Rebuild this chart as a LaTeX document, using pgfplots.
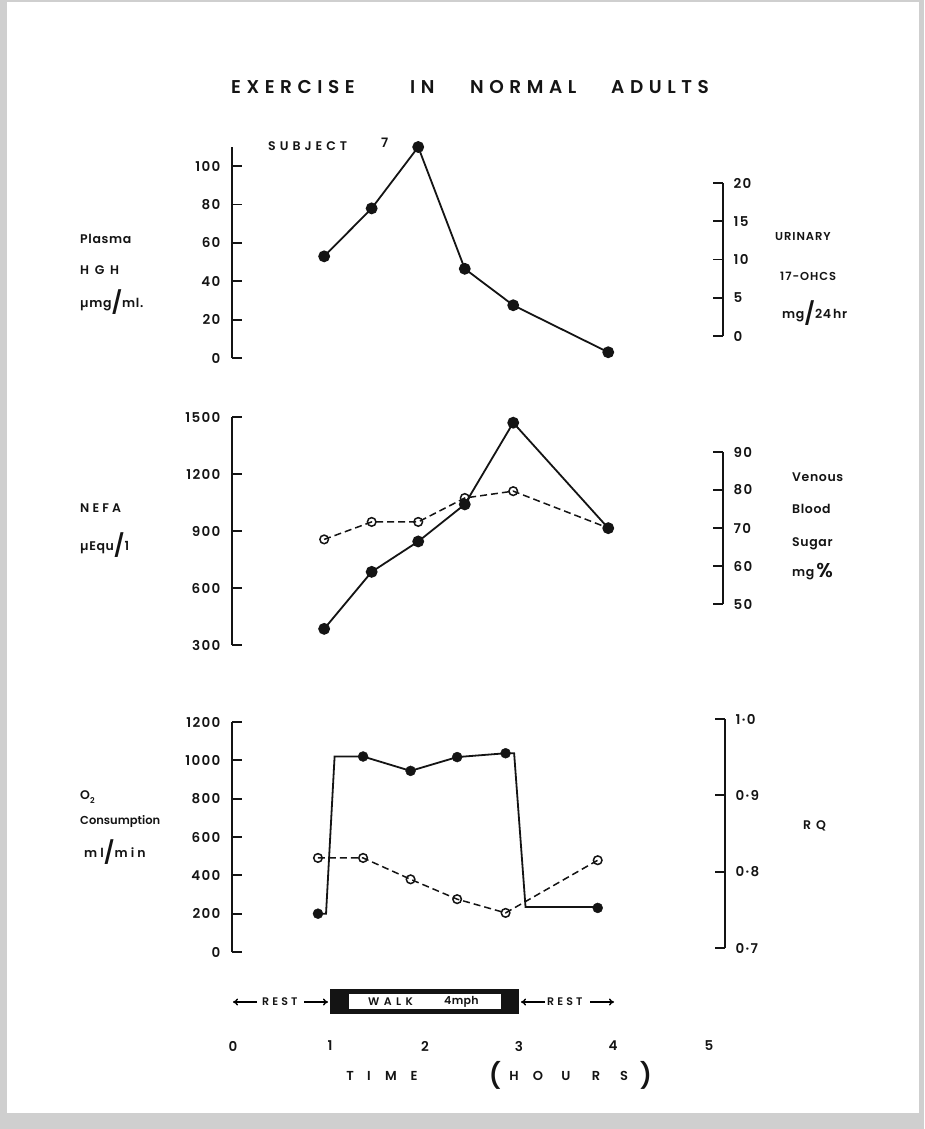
\documentclass[border=0pt]{standalone}
\usepackage{fontspec}
\usepackage{pgfplots}
\pgfplotsset{compat=1.18}
\usetikzlibrary{arrows.meta}
\setmainfont{Poppins}[UprightFont=* SemiBold]

\definecolor{ink}{HTML}{141414}
\definecolor{edge}{HTML}{CFCFCF}

\newcommand\tickfont{\fontsize{13.5}{15}\selectfont\addfontfeatures{LetterSpace=10}}
\newcommand\labfont{\fontsize{12.5}{14}\selectfont\addfontfeatures{LetterSpace=5}}
\newcommand\bigslash{\raisebox{-3pt}{\fontsize{22}{22}\selectfont/}}

\pgfplotsset{
  panel/.style={
    scale only axis, clip=false, anchor=south west,
    width=491pt, xmin=0, xmax=5.168,
    hide x axis,
    major tick length=10pt,
    every tick/.style={line width=1.8pt, ink},
    yticklabel style={font=\tickfont, text=ink},
    /pgf/number format/assume math mode=true,
    /pgf/number format/1000 sep={},
  },
  leftax/.style={panel, axis y line*=left, tick align=inside,
    y axis line style={-, line width=1.8pt, ink},
    yticklabel style={xshift=-8pt}},
  rightax/.style={panel, axis y line*=right, tick align=inside,
    y axis line style={-, line width=1.8pt, ink},
    yticklabel style={xshift=7pt}},
  fullser/.style={ink, line width=1.8pt, mark=*, mark size=5pt,
    mark options={solid, fill=ink}},
  openser/.style={ink, line width=1.5pt, dash pattern=on 7pt off 4pt,
    mark=o, mark size=4.3pt, mark options={solid, fill=white}},
}

\begin{document}
\begin{tikzpicture}
\fill[edge] (0pt,0pt) rectangle (924pt,-1129pt);
\fill[white] (7pt,-2pt) rectangle (919pt,-1113pt);
\useasboundingbox (0pt,0pt) rectangle (924pt,-1129pt);

% ---------- Plasma HGH / urinary 17-OHCS ----------
\begin{axis}[leftax, at={(232pt,-358pt)}, height=211pt,
  ymin=0, ymax=110, ytick={0,20,...,100}]
\addplot[fullser] coordinates {
  (0.97,53) (1.47,78) (1.96,110) (2.45,46.5) (2.96,27.5) (3.96,3)};
\end{axis}
\begin{axis}[rightax, at={(232pt,-336pt)}, height=153pt,
  ymin=0, ymax=20, ytick={0,5,...,20}]
\addplot[draw=none] coordinates {(0,0)};
\end{axis}

% ---------- NEFA / venous blood sugar ----------
\begin{axis}[rightax, at={(232pt,-604pt)}, height=152pt,
  ymin=50, ymax=90, ytick={50,60,...,90}]
\addplot[openser] coordinates {
  (0.97,67) (1.47,71.6) (1.96,71.6) (2.45,77.9) (2.96,79.7) (3.96,70)};
\end{axis}
\begin{axis}[leftax, at={(232pt,-645pt)}, height=228pt,
  ymin=300, ymax=1500, ytick={300,600,...,1500}]
\addplot[fullser] coordinates {
  (0.97,385) (1.47,685) (1.96,845) (2.45,1040) (2.96,1470) (3.96,915)};
\end{axis}

% ---------- O2 consumption / RQ ----------
\begin{axis}[rightax, at={(232pt,-948pt)}, height=229pt, width=493pt, xmax=5.19,
  ymin=0.7, ymax=1.0, ytick={0.7,0.8,0.9,1.0},
  yticklabels={0·7,0·8,0·9,1·0}]
\addplot[openser] coordinates {
  (0.905,0.818) (1.38,0.818) (1.88,0.790) (2.37,0.764) (2.88,0.746) (3.85,0.815)};
\end{axis}
\begin{axis}[leftax, at={(232pt,-952pt)}, height=230pt, width=493pt, xmax=5.19,
  ymin=0, ymax=1200, ytick={0,200,...,1200}]
% consumption steps up at the start of the walk and back down at its end
\addplot[ink, line width=1.8pt] coordinates {
  (0.905,200) (0.99,200) (1.08,1020) (1.38,1020) (1.88,945) (2.37,1017)
  (2.88,1037) (2.97,1037) (3.09,235) (3.85,235)};
\addplot[only marks, mark=*, mark size=5pt, ink, fill=ink] coordinates {
  (0.905,200) (1.38,1020) (1.88,945) (2.37,1017) (2.88,1037) (3.85,230)};
\end{axis}

\begin{scope}[x=1pt, y=-1pt, text=ink]
% title
\begin{scope}[every node/.style={anchor=west, inner sep=0pt,
    font=\fontsize{18.5}{20}\selectfont\addfontfeatures{LetterSpace=30}}]
\node at (231,87) {EXERCISE};
\node at (410,87) {IN};
\node at (470,87) {NORMAL};
\node at (611,87) {ADULTS};
\end{scope}
\node[anchor=west, inner sep=0pt, font=\fontsize{12.5}{13}\selectfont\addfontfeatures{LetterSpace=32}]
  at (268,146) {SUBJECT};
\node[anchor=west, inner sep=0pt, font=\fontsize{13}{14}\selectfont] at (381,143) {7};

% left-hand quantity names
\begin{scope}[every node/.style={anchor=west, inner sep=0pt, font=\labfont}]
\node at (80,239) {Plasma};
\node[font=\labfont\addfontfeatures{LetterSpace=45}] at (80,270) {HGH};
\node at (80,302) {µmg\bigslash ml.};
\node[font=\labfont\addfontfeatures{LetterSpace=25}] at (80,508) {NEFA};
\node at (80,545) {µEqu\bigslash 1};
\node at (80,797) {O\raisebox{-4pt}{\fontsize{8}{8}\selectfont 2}};
\node[font=\fontsize{11.5}{13}\selectfont] at (80,822) {Consumption};
\node[font=\labfont\addfontfeatures{LetterSpace=25}] at (84,852) {ml\bigslash min};
% right-hand quantity names
\node[font=\fontsize{11.5}{13}\selectfont\addfontfeatures{LetterSpace=8}] at (775,237) {URINARY};
\node[font=\fontsize{11.5}{13}\selectfont\addfontfeatures{LetterSpace=8}] at (780,276) {17-OHCS};
\node at (782,313) {mg\bigslash 24\,hr};
\node at (792,477) {Venous};
\node at (792,509) {Blood};
\node at (792,544) {Sugar};
\node at (792,572) {mg\,\raisebox{-1pt}{\fontsize{20}{20}\selectfont\%}};
\node[font=\labfont\addfontfeatures{LetterSpace=40}] at (803,826) {RQ};
\end{scope}

% walk period bar
\fill[ink] (330,989) rectangle (519,1014);
\fill[white] (349,994) rectangle (501,1009);
\node[anchor=west, inner sep=0pt, font=\fontsize{11}{11}\selectfont\addfontfeatures{LetterSpace=40}] at (368,1002) {WALK};
\node[anchor=west, inner sep=0pt, font=\fontsize{11}{11}\selectfont\addfontfeatures{LetterSpace=3}] at (444,1002) {4mph};
\begin{scope}[line width=1.4pt, arrows={-{To[length=5pt, width=7pt]}}]
\draw (257,1002) -- (233,1002);
\draw (304,1002) -- (328,1002);
\draw (545,1002) -- (521,1002);
\draw (590,1002) -- (614,1002);
\end{scope}
\node[anchor=west, inner sep=0pt, font=\fontsize{11}{11}\selectfont\addfontfeatures{LetterSpace=28}] at (262,1002) {REST};
\node[anchor=west, inner sep=0pt, font=\fontsize{11}{11}\selectfont\addfontfeatures{LetterSpace=28}] at (547,1002) {REST};

% time axis numbering
\begin{scope}[every node/.style={inner sep=0pt, font=\tickfont}]
\node at (233,1046) {0};
\node at (330,1046) {1};
\node at (425,1046) {2};
\node at (519,1046) {3};
\node at (613,1046) {4};
\node at (709,1046) {5};
\end{scope}
\begin{scope}[every node/.style={inner sep=0pt, font=\fontsize{13}{13}\selectfont}]
\node at (350,1076) {T};
\node at (369,1076) {I};
\node at (391,1076) {M};
\node at (414,1076) {E};
\node at (514,1076) {H};
\node at (538,1076) {O};
\node at (566,1076) {U};
\node at (596,1076) {R};
\node at (624,1076) {S};
\node[font=\fontsize{25}{25}\selectfont] at (495,1075) {(};
\node[font=\fontsize{25}{25}\selectfont] at (646,1075) {)};
\end{scope}
\end{scope}
\end{tikzpicture}
\end{document}
